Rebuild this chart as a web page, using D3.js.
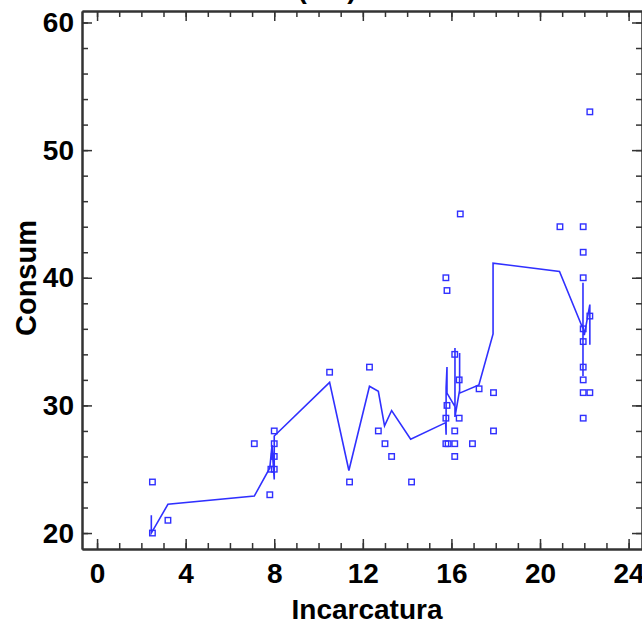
<!DOCTYPE html>
<html>
<head>
<meta charset="utf-8">
<script src="https://cdn.jsdelivr.net/npm/d3@7"></script>
<style>
  body { margin: 0; background: #fff; }
  text { font-family: "Liberation Sans", Arial, sans-serif; font-weight: bold; }
</style>
</head>
<body>
<div id="chart-area"></div>
<script>
const WIDTH = 642
const HEIGHT = 624

// observed points (Incarcatura, Consum)
const pointX = [2.5, 2.5, 3.2, 7.1, 7.8, 7.85, 8.0, 8.0, 8.0, 8.0,
  10.5, 11.4, 12.3, 12.7, 13.0, 13.3, 14.2,
  15.75, 15.8, 16.4, 16.15, 16.35, 17.25, 17.9, 15.8, 15.75, 16.35, 16.15, 17.9,
  15.75, 15.85, 16.15, 16.95, 16.15,
  22.25, 20.9, 21.95, 21.95, 21.95, 22.25, 21.95, 21.95, 21.95, 21.95, 21.95, 22.25, 21.95]
const pointY = [24, 20, 21, 27, 23, 25, 25, 26, 27, 28,
  32.6, 24, 33, 28, 27, 26, 24,
  40, 39, 45, 34, 32, 31.3, 31, 30, 29, 29, 28, 28,
  27, 27, 27, 27, 26,
  53, 44, 44, 42, 40, 37, 36, 35, 33, 32, 31, 31, 29]

// fitted line, in drawing order
const fitX = [2.45, 2.45, 3.2, 7.1, 7.8, 7.9, 7.95, 8.0, 8.0, 10.5, 11.37, 12.3, 12.7, 12.98, 13.3, 14.16,
  15.74, 15.76, 15.76, 15.8, 15.8, 16.16, 16.16, 16.16, 16.37, 16.37, 16.37, 17.24, 17.88, 17.88,
  20.88, 21.94, 21.94, 21.94, 21.94, 22.0, 22.25, 22.25, 22.25]
const fitY = [21.4, 20.0, 22.25, 22.9, 25.1, 26.9, 25.5, 24.2, 27.6, 31.8, 24.9, 31.5, 31.1, 28.4, 29.6, 27.35,
  28.65, 27.7, 31.4, 33.0, 30.96, 29.9, 34.5, 29.1, 31.2, 34.1, 30.96, 31.6, 35.6, 41.15,
  40.5, 36.0, 39.6, 32.3, 36.2, 35.5, 37.9, 34.75, 36.8]

const xMajor = [0, 4, 8, 12, 16, 20, 24]
const xMinor = d3.range(0, 25, 1)
const yMajor = [20, 30, 40, 50, 60]
const yMinor = d3.range(20, 61, 2)

const BLUE = "#3030ff"
const AXIS = "#333"

const svg = d3.select("#chart-area").append("svg")
  .attr("width", WIDTH)
  .attr("height", HEIGHT)

const x = d3.scaleLinear().domain([-0.68, 24.65]).range([82, 643])
const y = d3.scaleLinear().domain([18.75, 60.9]).range([549, 11])

const X0 = x.range()[0], X1 = x.range()[1]
const Y0 = y.range()[0], Y1 = y.range()[1]

// title (mostly off the top of the picture)
svg.append("text")
  .attr("x", 327)
  .attr("y", -2)
  .attr("text-anchor", "middle")
  .attr("font-size", "28px")
  .text("(cm)")

function styleAxis(g) {
  g.select(".domain").attr("stroke", AXIS).attr("stroke-width", 2)
  g.selectAll(".tick line").attr("stroke", AXIS).attr("stroke-width", 1.5)
  g.selectAll(".tick text").attr("font-size", "28px").attr("fill", "#000")
}

// minor ticks first, then majors on top
const axes = [
  [d3.axisBottom(x), `translate(0, ${Y0})`, xMinor, xMajor, true],
  [d3.axisTop(x), `translate(0, ${Y1})`, xMinor, xMajor, false],
  [d3.axisLeft(y), `translate(${X0}, 0)`, yMinor, yMajor, true],
  [d3.axisRight(y), `translate(${X1 - 1}, 0)`, yMinor, yMajor, false]
]

axes.forEach(([ax, tr, minor, major, labels]) => {
  svg.append("g")
    .attr("transform", tr)
    .call(ax.tickValues(minor).tickSize(-6).tickSizeOuter(0).tickFormat(""))
    .call(styleAxis)
  svg.append("g")
    .attr("class", labels ? "lab" : "")
    .attr("transform", tr)
    .call(ax.tickValues(major).tickSize(-10).tickSizeOuter(0)
      .tickPadding(labels ? 14 : 0)
      .tickFormat(labels ? d3.format("d") : ""))
    .call(styleAxis)
})

// left labels closer to axis
svg.selectAll("g.lab").filter(function() {
  return d3.select(this).attr("transform") === `translate(${X0}, 0)`
}).selectAll(".tick text").attr("x", -8)

// axis titles
svg.append("text")
  .attr("x", 367)
  .attr("y", 619)
  .attr("text-anchor", "middle")
  .attr("font-size", "28px")
  .text("Incarcatura")

svg.append("text")
  .attr("transform", `translate(36, 278) rotate(-90)`)
  .attr("text-anchor", "middle")
  .attr("font-size", "29px")
  .text("Consum")

// fitted line
const line = d3.line()
  .x(i => x(fitX[i]))
  .y(i => y(fitY[i]))

svg.append("path")
  .datum(d3.range(fitX.length))
  .attr("d", line)
  .attr("fill", "none")
  .attr("stroke", BLUE)
  .attr("stroke-width", 1.6)

// points
svg.append("g").selectAll("rect")
  .data(d3.range(pointX.length))
  .enter().append("rect")
    .attr("x", i => x(pointX[i]) - 2.75)
    .attr("y", i => y(pointY[i]) - 2.75)
    .attr("width", 5.5)
    .attr("height", 5.5)
    .attr("fill", "none")
    .attr("stroke", BLUE)
    .attr("stroke-width", 1.4)
</script>
</body>
</html>
